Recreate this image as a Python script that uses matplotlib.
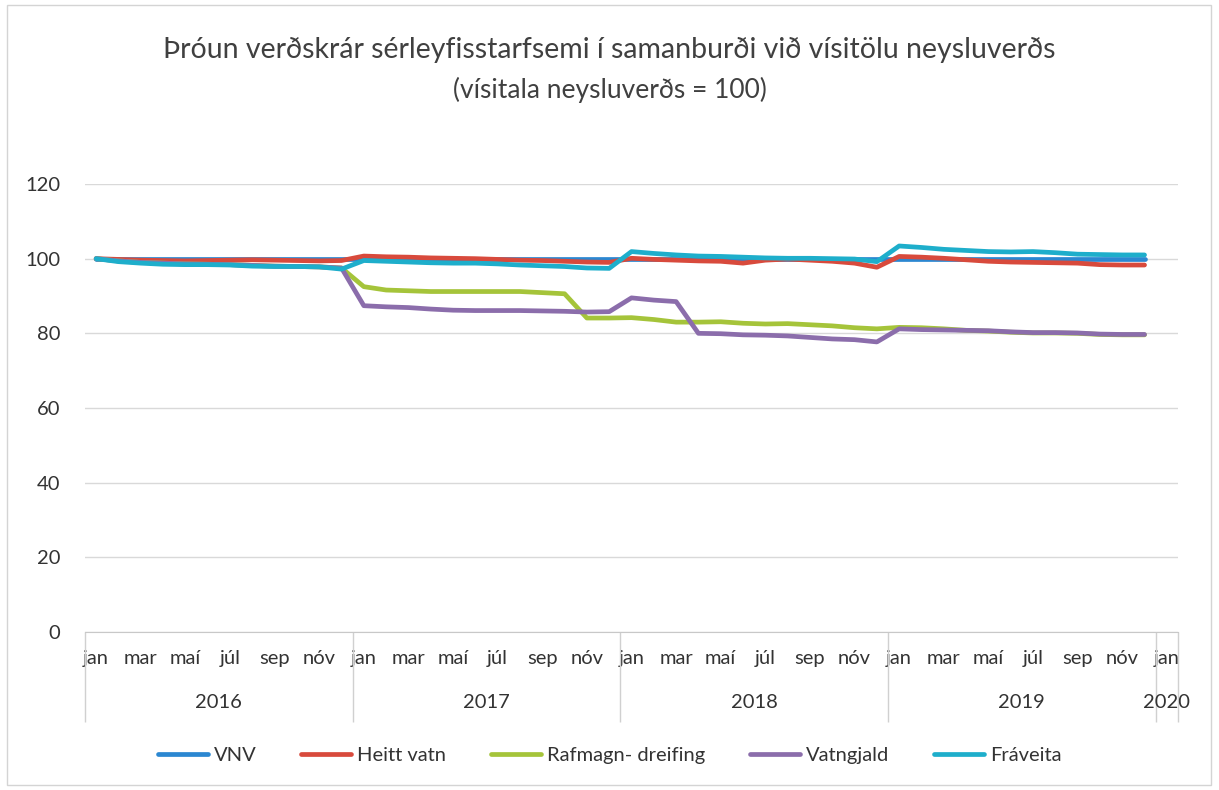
import numpy as np
import matplotlib
matplotlib.use('Agg')
from matplotlib import pyplot as plt, rcParams
from matplotlib.patches import Rectangle

rcParams['font.family'] = ['Lato', 'DejaVu Sans']

# Monthly categories jan 2016 - jan 2020 (data runs to des 2019)
months = ['jan', 'feb', 'mar', 'apr', 'maí', 'jún', 'júl', 'ágú', 'sep', 'okt', 'nóv', 'des']
years = ['2016', '2017', '2018', '2019', '2020']
categories = [(y, m) for y in years[:4] for m in months] + [('2020', 'jan')]

vnv = [100.0] * 48
heitt_vatn = [100.0, 99.8, 99.6, 99.5, 99.4, 99.5, 99.6, 99.7, 99.6, 99.5, 99.4, 99.5,
              100.7, 100.5, 100.4, 100.2, 100.1, 100.0, 99.8, 99.6, 99.5, 99.3, 99.1, 99.0,
              100.1, 99.8, 99.6, 99.4, 99.3, 98.8, 99.6, 99.9, 99.6, 99.3, 98.8, 97.7,
              100.6, 100.4, 100.1, 99.7, 99.3, 99.1, 99.0, 98.9, 98.8, 98.4, 98.3, 98.3]
rafmagn = [100.0, 99.4, 99.0, 98.8, 98.6, 98.5, 98.4, 98.2, 98.0, 97.9, 97.8, 97.5,
           92.5, 91.6, 91.4, 91.2, 91.2, 91.2, 91.2, 91.2, 90.9, 90.6, 84.1, 84.1,
           84.2, 83.7, 83.0, 83.0, 83.1, 82.7, 82.5, 82.6, 82.3, 82.0, 81.5, 81.2,
           81.6, 81.5, 81.2, 80.8, 80.6, 80.3, 80.1, 80.1, 80.0, 79.7, 79.6, 79.6]
vatngjald = [100.0, 99.4, 99.0, 98.8, 98.6, 98.5, 98.4, 98.2, 98.0, 97.9, 97.8, 97.5,
             87.4, 87.1, 86.9, 86.5, 86.2, 86.1, 86.1, 86.1, 86.0, 85.9, 85.7, 85.8,
             89.5, 88.9, 88.5, 80.0, 79.9, 79.6, 79.5, 79.3, 78.9, 78.5, 78.3, 77.7,
             81.2, 81.0, 80.9, 80.8, 80.7, 80.4, 80.2, 80.2, 80.1, 79.8, 79.7, 79.7]
fraveita = [100.0, 99.2, 98.8, 98.5, 98.4, 98.4, 98.3, 98.0, 97.9, 97.9, 97.8, 97.2,
            99.5, 99.3, 99.1, 98.9, 98.8, 98.8, 98.6, 98.3, 98.1, 97.9, 97.5, 97.4,
            101.9, 101.4, 101.0, 100.7, 100.6, 100.4, 100.2, 100.1, 100.1, 100.0, 99.9, 99.2,
            103.4, 103.0, 102.5, 102.2, 101.9, 101.8, 101.9, 101.6, 101.2, 101.1, 101.0, 101.0]

series = [('VNV', vnv, '#2b87d1'),
          ('Heitt vatn', heitt_vatn, '#d84a3c'),
          ('Rafmagn- dreifing', rafmagn, '#a5c43a'),
          ('Vatngjald', vatngjald, '#8b6dab'),
          ('Fráveita', fraveita, '#1eaecb')]

W, H = 1219, 790
fig = plt.figure(figsize=(W / 100, H / 100), dpi=100)
fig.patches.append(Rectangle((7 / W, 5 / H), 1204 / W, 780 / H, transform=fig.transFigure,
                             fill=False, edgecolor='#d4d4d4', lw=1))
ax = fig.add_axes([85 / W, 1 - 632 / H, (1178 - 85) / W, (632 - 184) / H])

x = np.arange(len(categories))
for name, vals, col in series:
    ax.plot(x[:len(vals)], vals, color=col, lw=3.4, label=name, solid_capstyle='round')

ax.set_xlim(-0.5, len(categories) - 0.5)
ax.set_ylim(0, 120)
ax.set_yticks(np.arange(0, 121, 20))
ax.grid(axis='y', color='#d9d9d9', lw=1)
ax.set_axisbelow(True)
for s in ('left', 'right', 'top'):
    ax.spines[s].set_visible(False)
ax.spines['bottom'].set_color('#c8c8c8')

ax.set_xticks(x[::2])
ax.set_xticklabels([c[1] for c in categories][::2])
ax.tick_params(axis='x', length=0, pad=13, labelsize=14.5, colors='#333333')
ax.tick_params(axis='y', length=0, pad=18, labelsize=14.5, colors='#333333')

# year level of the category axis
tr = ax.get_xaxis_transform()
for i, yr in enumerate(years):
    idx = [k for k, c in enumerate(categories) if c[0] == yr]
    ax.text((idx[0] + idx[-1]) / 2, -0.158, yr, transform=tr, ha='center', va='center',
            fontsize=14.5, color='#333333')
bounds = [-0.5] + [k - 0.5 for k in range(12, len(categories), 12)] + [len(categories) - 0.5]
ax.vlines(bounds, -0.2, 0, transform=tr, colors='#d0d0d0', lw=1, clip_on=False)

fig.text(0.5, 1 - 50 / H, 'Þróun verðskrár sérleyfisstarfsemi í samanburði við vísitölu neysluverðs',
         ha='center', va='center', fontsize=20.5, color='#404040')
fig.text(0.5, 1 - 90 / H, '(vísitala neysluverðs = 100)',
         ha='center', va='center', fontsize=19, color='#404040')

fig.legend(loc='center', bbox_to_anchor=(0.5, 1 - 755 / H), ncol=5, frameon=False,
           fontsize=14.5, handlelength=2.5, columnspacing=2.2, handletextpad=0.3,
           labelcolor='#333333')

fig.savefig('out.png', dpi=100)
